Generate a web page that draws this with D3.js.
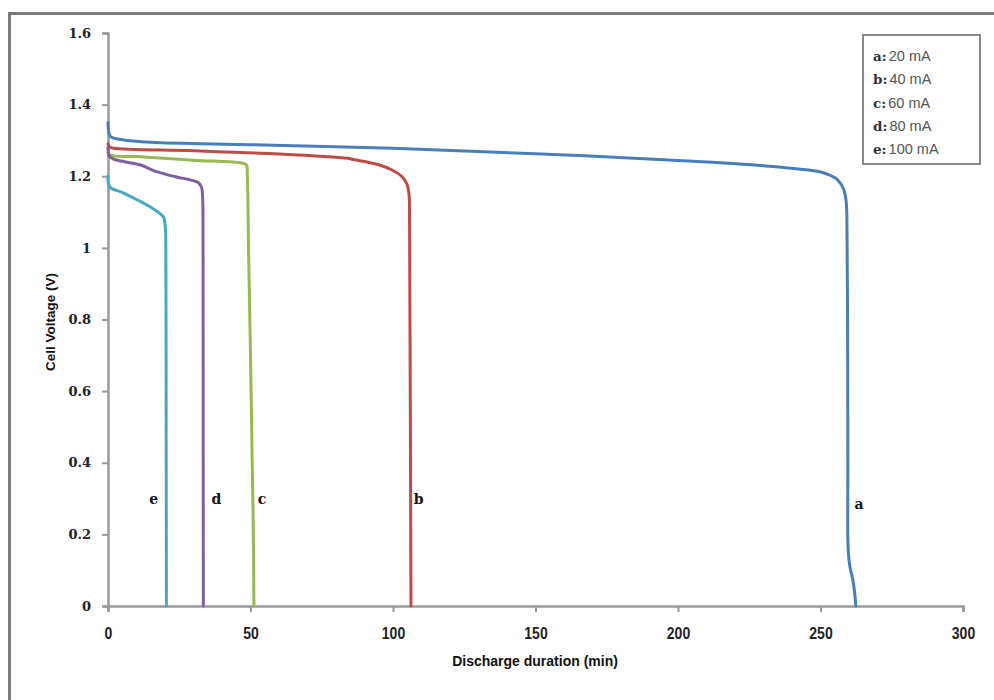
<!DOCTYPE html>
<html>
<head>
<meta charset="utf-8">
<script src="https://cdn.jsdelivr.net/npm/d3@7"></script>
<style>
  html, body { margin: 0; padding: 0; background: #ffffff; }
  svg { display: block; }
</style>
</head>
<body>
<svg id="chart" width="994" height="700"></svg>
<script>
// ---- data ----
const seriesKeys = ["a", "b", "c", "d", "e"];
const legendLabels = ["20 mA", "40 mA", "60 mA", "80 mA", "100 mA"];
const xTicks = [0, 50, 100, 150, 200, 250, 300];
const yTicks = [0, 0.2, 0.4, 0.6, 0.8, 1, 1.2, 1.4, 1.6];
const yTickLabels = ["0", "0.2", "0.4", "0.6", "0.8", "1", "1.2", "1.4", "1.6"];

const seriesA = [[0,1.35],[0.3,1.322],[1,1.31],[5,1.302],[15,1.295],[50,1.288],[100,1.278],[150,1.263],[200,1.244],[230,1.229],[250,1.212],[253,1.204],[256,1.19],[258,1.166],[259,1.13],[259.3,1.05],[259.5,0.8],[259.6,0.4],[259.7,0.16],[260.3,0.11],[261.3,0.075],[262,0.035],[262.4,0]];
const seriesB = [[0,1.29],[0.5,1.282],[2,1.278],[30,1.271],[60,1.262],[84,1.25],[86,1.247],[90,1.241],[95,1.232],[100,1.216],[103,1.2],[104.8,1.18],[105.6,1.15],[105.8,1.1],[105.9,0.9],[106.1,0.5],[106.3,0]];
const seriesC = [[0,1.265],[1,1.258],[10,1.255],[30,1.245],[47.5,1.236],[48.6,1.231],[48.9,1.2],[49.3,1.0],[50,0.7],[50.6,0.4],[51,0.2],[51.2,0]];
const seriesD = [[0,1.28],[0.5,1.256],[2,1.248],[5.4,1.241],[11.2,1.232],[17,1.213],[24,1.198],[28.8,1.19],[31.5,1.183],[32.8,1.17],[33.2,1.14],[33.35,1.0],[33.4,0.5],[33.45,0]];
const seriesE = [[0,1.2],[0.6,1.17],[5,1.155],[10,1.135],[14.7,1.115],[17.5,1.1],[19.4,1.087],[20.1,1.06],[20.3,1.0],[20.4,0.5],[20.5,0]];
const seriesData = [seriesA, seriesB, seriesC, seriesD, seriesE];
const seriesColors = ["#4a7ebb", "#be4b48", "#98b954", "#7d60a0", "#46aac5"];
// curve-label anchor (time, voltage)
const curveLabelPos = [[263.5,0.27],[109,0.285],[54,0.285],[38,0.285],[16,0.285]];

// ---- layout ----
const svg = d3.select("#chart");
const x = d3.scaleLinear().domain([0, 300]).range([108, 963]);
const y = d3.scaleLinear().domain([0, 1.6]).range([606, 33]);

// outer frame (top + left edges)
svg.append("path")
  .attr("d", "M9.5,700 L9.5,13.5 L994,13.5")
  .attr("fill", "none").attr("stroke", "#7a7a7a").attr("stroke-width", 3);

const axisColor = "#9a9a9a";

// y axis
const yAxis = d3.axisLeft(y).tickValues(yTicks).tickSize(6).tickPadding(11)
  .tickFormat((d, i) => yTickLabels[i]);
const gy = svg.append("g").attr("transform", `translate(${x(0)},0)`).call(yAxis);
gy.select(".domain").attr("stroke", axisColor).attr("stroke-width", 2.5);
gy.selectAll(".tick line").attr("stroke", axisColor).attr("stroke-width", 2);
gy.selectAll(".tick text")
  .attr("font-family", "'DejaVu Serif', serif").attr("font-weight", "bold")
  .attr("font-size", 13).attr("fill", "#222");

// x axis
const xAxis = d3.axisBottom(x).tickValues(xTicks).tickSize(6).tickPadding(13)
  .tickFormat(d3.format("d"));
const gx = svg.append("g").attr("transform", `translate(0,${y(0)})`).call(xAxis);
gx.select(".domain").attr("stroke", axisColor).attr("stroke-width", 2.5);
gx.selectAll(".tick line").attr("stroke", axisColor).attr("stroke-width", 2);
gx.selectAll(".tick text")
  .attr("font-family", "'Liberation Sans', sans-serif")
  .attr("font-weight", "bold").attr("font-size", 14).attr("fill", "#222")
  .attr("transform", "scale(1,1.15)");

// axis titles
svg.append("text").attr("x", 535).attr("y", 666).attr("text-anchor", "middle")
  .attr("font-family", "'Liberation Sans', sans-serif").attr("font-weight", "bold")
  .attr("font-size", 14).attr("fill", "#111").text("Discharge duration (min)");
svg.append("text").attr("transform", "translate(55,322) rotate(-90)")
  .attr("text-anchor", "middle")
  .attr("font-family", "'Liberation Sans', sans-serif").attr("font-weight", "bold")
  .attr("font-size", 13.5).attr("fill", "#111").text("Cell Voltage (V)");

// lines
const line = d3.line().x(d => x(d[0])).y(d => y(d[1])).curve(d3.curveCatmullRom.alpha(0.5));
seriesData.forEach((s, i) => {
  svg.append("path").datum(s).attr("d", line)
    .attr("fill", "none").attr("stroke", seriesColors[i])
    .attr("stroke-width", 3).attr("stroke-linejoin", "round").attr("stroke-linecap", "round");
});

// curve labels
seriesKeys.forEach((k, i) => {
  svg.append("text").attr("x", x(curveLabelPos[i][0])).attr("y", y(curveLabelPos[i][1]))
    .attr("text-anchor", "middle")
    .attr("font-family", "'DejaVu Serif', serif").attr("font-weight", "bold")
    .attr("font-size", 14).attr("fill", "#111").text(k);
});

// legend
svg.append("rect").attr("x", 863).attr("y", 35).attr("width", 117).attr("height", 129)
  .attr("fill", "#fff").attr("stroke", "#888").attr("stroke-width", 2);
const legendY = d3.scaleLinear().domain([0, 4]).range([61, 154]);
seriesKeys.forEach((k, i) => {
  const t = svg.append("text").attr("x", 873).attr("y", legendY(i))
    .attr("font-size", 13.5);
  t.append("tspan").attr("font-family", "'DejaVu Serif', serif").attr("font-weight", "bold")
    .attr("fill", "#333").text(k + ":");
  t.append("tspan").attr("font-family", "'Liberation Sans', sans-serif").attr("dx", 2)
    .attr("font-size", 14.5).attr("fill", "#555").text(legendLabels[i]);
});
</script>
</body>
</html>
